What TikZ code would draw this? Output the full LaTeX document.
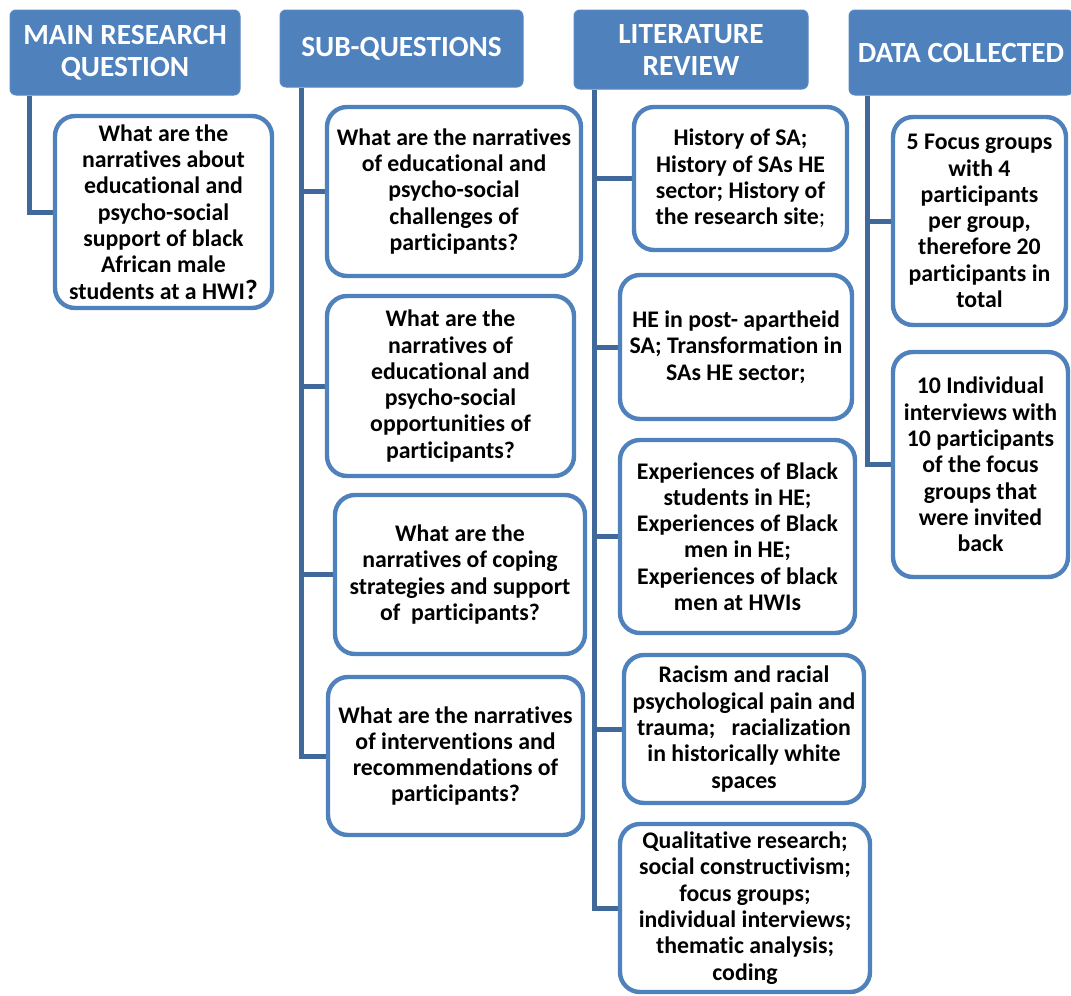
\documentclass[tikz,border=0pt]{standalone}
\usepackage{fontspec}
\setmainfont{Carlito}[Ligatures={NoCommon}]
\usetikzlibrary{calc,backgrounds}
\definecolor{hdrblue}{HTML}{4F81BD}
\definecolor{hdredge}{HTML}{5A8AC4}
\definecolor{linkblue}{HTML}{41689A}
\tikzset{
  header/.style={draw=hdredge, line width=1pt, fill=hdrblue, rounded corners=6pt,
    text=white, align=center, inner sep=0pt,
    font=\fontsize{29.3}{32}\selectfont\bfseries},
  item/.style={draw=hdrblue, line width=4.4pt, fill=white, rounded corners=20pt,
    align=center, inner sep=0pt, text=black,
    font=\fontsize{23.8}{26.3}\selectfont\bfseries},
  conn/.style={draw=linkblue, line width=5pt},
}
\begin{document}
\begin{tikzpicture}[x=1pt,y=-1pt]
\useasboundingbox (0,0) rectangle (1071,996);

% ---- column headers
\node[header, minimum width=230pt, minimum height=85pt] (h1) at (125,52.5) {MAIN RESEARCH\\QUESTION};
\node[header, minimum width=243pt, minimum height=77pt] (h2) at (401.5,48.5) {SUB-QUESTIONS};
\node[header, minimum width=234pt, minimum height=79pt] (h3) at (691,49.5) {LITERATURE\\REVIEW};
\node[header, minimum width=224pt, minimum height=85pt] (h4) at (961,52.5) {DATA COLLECTED};

% ---- trunk start points below each header
\coordinate (t1) at ($(h1.south west)+(20,0)$);
\coordinate (t2) at ($(h2.south west)+(22,0)$);
\coordinate (t3) at ($(h3.south west)+(21,0)$);
\coordinate (t4) at ($(h4.south west)+(19,0)$);

% ---- main research question
\node[item, minimum width=217pt, minimum height=192pt] (m1) at (163.5,212)
  {What are the\\narratives about\\educational and\\psycho-social\\support of black\\African male\\students at a HWI{\fontsize{28}{26.3}\selectfont ?}};

% ---- sub-questions
\node[item, minimum width=254pt, minimum height=169pt] (s1) at (454,191.5)
  {What are the narratives\\of educational and\\psycho-social\\challenges of\\participants?};
\node[item, minimum width=247pt, minimum height=180pt] (s2) at (450.5,386)
  {What are the\\narratives of\\educational and\\psycho-social\\opportunities of\\participants?};
\node[item, minimum width=250pt, minimum height=159pt] (s3) at (460,574.5)
  {What are the\\narratives of coping\\strategies and support\\of\ \ participants?};
\node[item, minimum width=255pt, minimum height=158pt] (s4) at (455.5,756)
  {What are the narratives\\of interventions and\\recommendations of\\participants?};

% ---- literature review
\node[item, minimum width=213pt, minimum height=143pt] (l1) at (740.5,178.5)
  {History of SA;\\History of SAs HE\\sector; History of\\the research site{\mdseries;}};
\node[item, minimum width=232pt, minimum height=144pt] (l2) at (736,347)
  {HE in post- apartheid\\SA; Transformation in\\SAs HE sector;};
\node[item, minimum width=235pt, minimum height=193pt] (l3) at (737.5,536.5)
  {Experiences of Black\\students in HE;\\Experiences of Black\\men in HE;\\Experiences of black\\men at HWIs};
\node[item, minimum width=240pt, minimum height=148pt] (l4) at (744,729)
  {Racism and racial\\psychological pain and\\trauma;\ \ \ racialization\\in historically white\\spaces};
\node[item, minimum width=250pt, minimum height=168pt] (l5) at (745,908)
  {Qualitative research;\\social constructivism;\\focus groups;\\individual interviews;\\thematic analysis;\\coding};

% ---- data collected
\node[item, minimum width=173pt, minimum height=208pt] (d1) at (979.5,221)
  {5 Focus groups\\with 4\\participants\\per group,\\therefore 20\\participants in\\total};
\node[item, minimum width=175pt, minimum height=225pt] (d2) at (980.5,464.5)
  {10 Individual\\interviews with\\10 participants\\of the focus\\groups that\\were invited\\back};

% ---- connectors: one trunk per column, one branch per box (behind the boxes)
\begin{scope}[on background layer]
  \fill[white] (0,0) rectangle (1071,996);
  \draw[conn] (t1) |- (m1.west);
  \draw[conn] (t2) |- (s4.west);
  \foreach \b in {s1,s2,s3} \draw[conn] (t2 |- \b.west) -- (\b.west);
  \draw[conn] (t3) |- (l5.west);
  \foreach \b in {l1,l2,l3,l4} \draw[conn] (t3 |- \b.west) -- (\b.west);
  \draw[conn] (t4) |- (d2.west);
  \draw[conn] (t4 |- d1.west) -- (d1.west);
\end{scope}
\end{tikzpicture}
\end{document}
